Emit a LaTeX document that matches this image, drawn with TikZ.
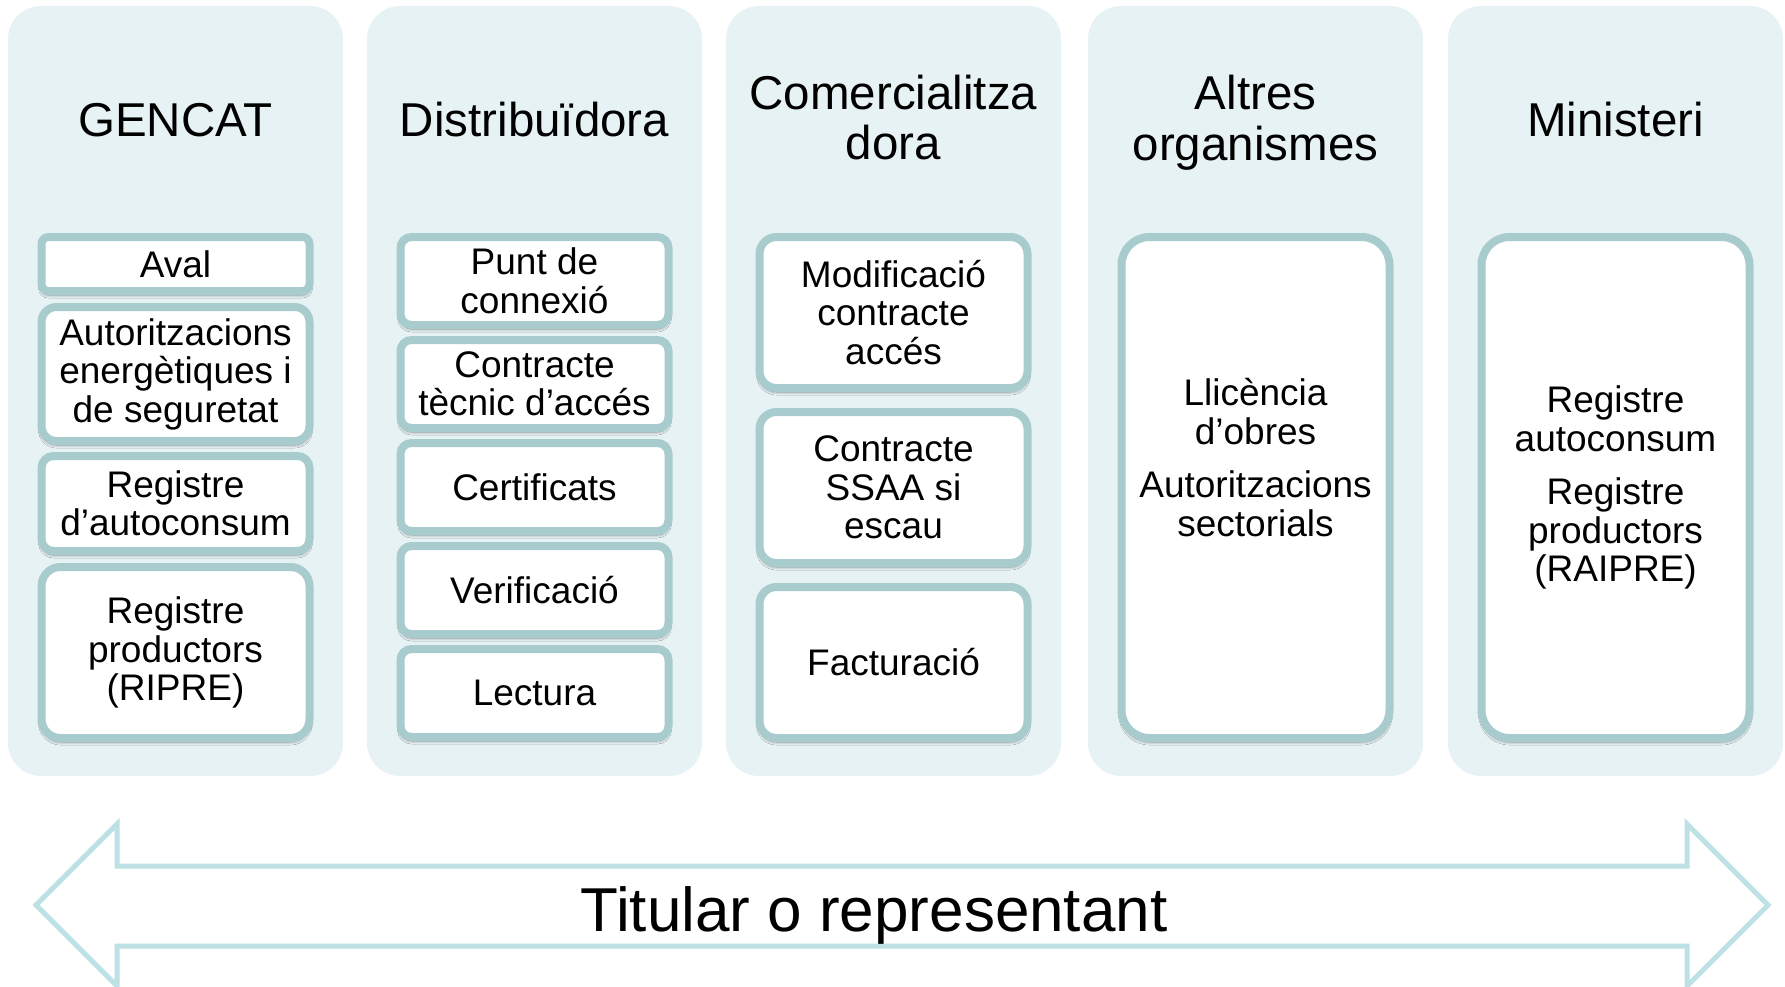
\documentclass[tikz,border=0pt]{standalone}
\usepackage{fontspec}
\setmainfont{Liberation Sans}
\usetikzlibrary{shadows.blur}
\definecolor{colfill}{RGB}{231,242,244}
\definecolor{boxline}{RGB}{168,203,206}
\definecolor{arrowline}{RGB}{189,225,229}
\begin{document}
\begin{tikzpicture}[x=1pt,y=-1pt,
  colbox/.style={fill=colfill, draw=none, rounded corners=33pt, minimum width=335pt, minimum height=770pt, inner sep=0pt},
  coltitle/.style={font=\fontsize{47.5}{50.5}\selectfont, align=center, inner sep=0pt},
  ibox/.style={fill=white, draw=boxline, line width=8pt, minimum width=268pt, inner sep=0pt, align=center,
    font=\fontsize{37}{38.5}\selectfont,
    blur shadow={shadow xshift=0pt, shadow yshift=-4pt, shadow blur radius=3pt, shadow opacity=45}},
  bigarrow/.style={draw=arrowline, line width=5pt, fill=white, line join=miter},
]
\useasboundingbox (0,0) rectangle (1785,986);

% columns
\node[colbox] (c1) at (175.5,391) {};
\node[colbox] (c2) at (534.5,391) {};
\node[colbox] (c3) at (893.5,391) {};
\node[colbox] (c4) at (1255.5,391) {};
\node[colbox] (c5) at (1615.5,391) {};

% titles
\node[coltitle, anchor=base] (t1) at (175.5,136) {GENCAT};
\node[coltitle, anchor=base] (t2) at (534.5,136) {Distribuïdora};
\node[coltitle] (t3) at (893.5,117.7) {Comercialitza\\dora};
\node[coltitle] (t4) at (1255.5,122.7) {Altres\\organismes};
\node[coltitle, anchor=base] (t5) at (1615.5,136) {Ministeri};

% GENCAT
\node[ibox, minimum height=54pt, rounded corners=7pt] (g1) at (175.5,264) {Aval};
\node[ibox, minimum height=134pt, rounded corners=15pt] (g2) at (175.5,374) {Autoritzacions\\energètiques i\\de seguretat};
\node[ibox, minimum height=95pt, rounded corners=12pt] (g3) at (175.5,503.5) {Registre\\d’autoconsum};
\node[ibox, minimum height=171pt, rounded corners=19pt] (g4) at (175.5,652.5) {Registre\\productors\\(RIPRE)};

% Distribuidora
\node[ibox, minimum height=88pt, rounded corners=11pt] (d1) at (534.5,281) {Punt de\\connexió};
\node[ibox, minimum height=88pt, rounded corners=11pt] (d2) at (534.5,384) {Contracte\\tècnic d’accés};
\node[ibox, minimum height=88pt, rounded corners=11pt] (d3) at (534.5,487) {Certificats};
\node[ibox, minimum height=88pt, rounded corners=11pt] (d4) at (534.5,590) {Verificació};
\node[ibox, minimum height=88pt, rounded corners=11pt] (d5) at (534.5,693) {Lectura};

% Comercialitzadora
\node[ibox, minimum height=151pt, rounded corners=17pt] (m1) at (893.5,312.5) {Modificació\\contracte\\accés};
\node[ibox, minimum height=151pt, rounded corners=17pt] (m2) at (893.5,487.5) {Contracte\\SSAA si\\escau};
\node[ibox, minimum height=151pt, rounded corners=17pt] (m3) at (893.5,662.5) {Facturació};

% Altres organismes
\node[ibox, minimum height=501pt, rounded corners=28pt] (a1) at (1255.5,487.5) {Llicència\\d’obres\\[15pt]Autoritzacions\\sectorials\\[21.5pt]~};

% Ministeri
\node[ibox, minimum height=501pt, rounded corners=28pt] (n1) at (1615.5,487.5) {Registre\\autoconsum\\[15pt]Registre\\productors\\(RAIPRE)};

% double arrow
\draw[bigarrow] (36,905) -- (117,824) -- (117,866) -- (1687,866) -- (1687,824) -- (1768,905)
  -- (1687,986) -- (1687,946) -- (117,946) -- (117,986) -- cycle;
\node[font=\fontsize{62}{70}\selectfont, inner sep=0pt, anchor=base] (titular) at (874,931) {Titular o representant};
\end{tikzpicture}
\end{document}
